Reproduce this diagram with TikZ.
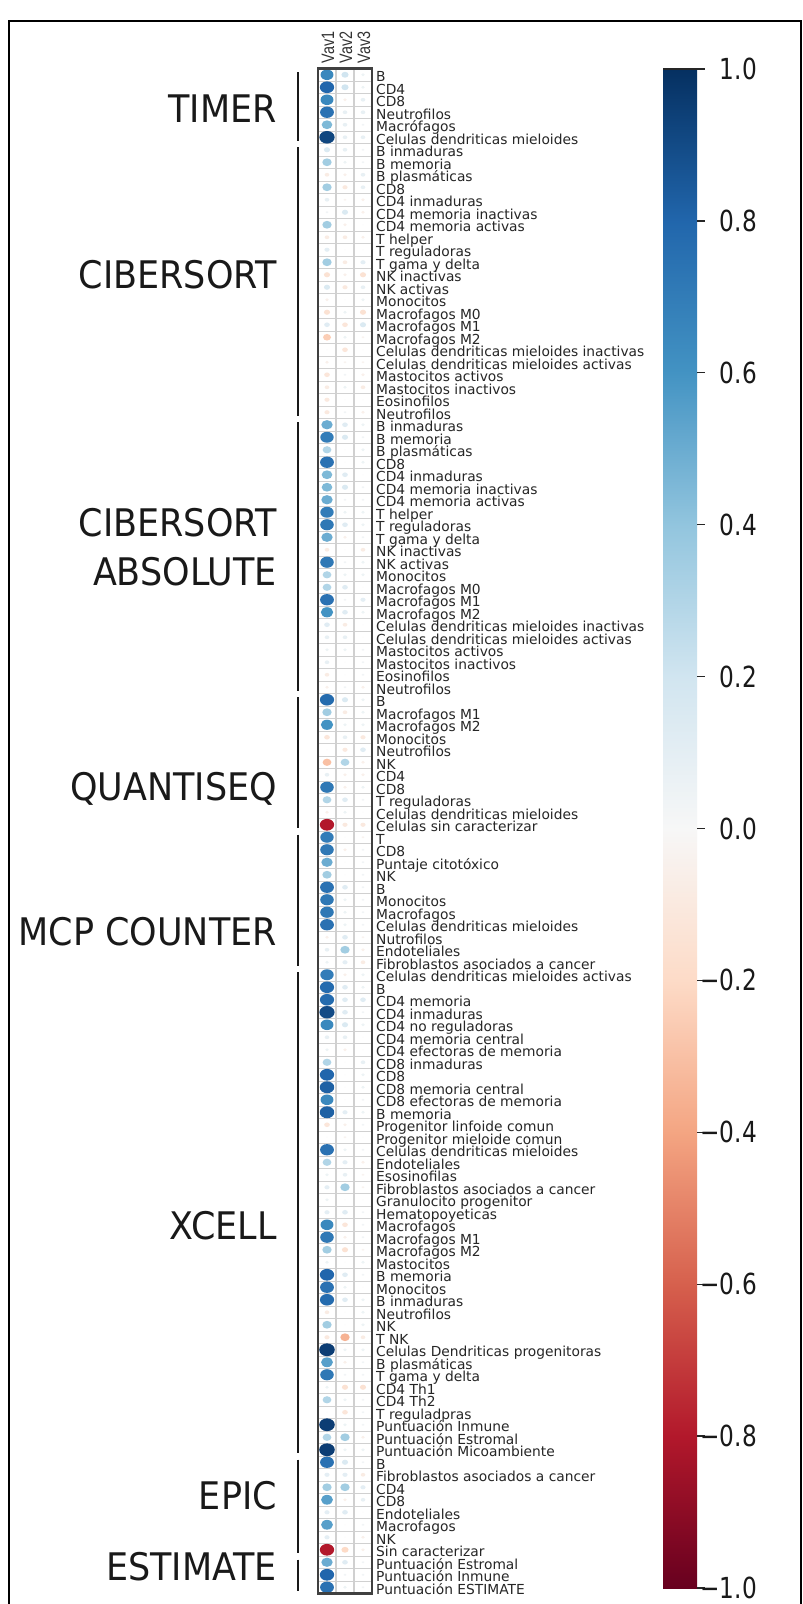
\documentclass[tikz,border=0pt]{standalone}
\usepackage{fontspec}
\setmainfont{DejaVu Sans}
\newfontfamily\labf{DejaVu Sans}
\newfontfamily\grpf{DejaVu Sans}[FakeStretch=0.92]
\newfontfamily\cbf{DejaVu Sans}[FakeStretch=0.8]
\newfontfamily\vavf{Liberation Sans}[FakeStretch=0.8]
\definecolor{rb0}{HTML}{67001F}
\definecolor{rb1}{HTML}{B2182B}
\definecolor{rb2}{HTML}{D6604D}
\definecolor{rb3}{HTML}{F4A582}
\definecolor{rb4}{HTML}{FDDBC7}
\definecolor{rb5}{HTML}{F7F7F7}
\definecolor{rb6}{HTML}{D1E5F0}
\definecolor{rb7}{HTML}{92C5DE}
\definecolor{rb8}{HTML}{4393C3}
\definecolor{rb9}{HTML}{2166AC}
\definecolor{rb10}{HTML}{053061}
\definecolor{gridgray}{HTML}{D0D0D0}
\definecolor{framegray}{HTML}{404040}
\newcommand\corrdot[3]{%
  \pgfmathsetmacro\cdt{(#3+1)*5}%
  \pgfmathtruncatemacro\cdi{min(floor(\cdt),9)}%
  \pgfmathtruncatemacro\cdf{round((\cdt-\cdi)*100)}%
  \pgfmathtruncatemacro\cdj{\cdi+1}%
  \colorlet{dotc}{rb\cdj!\cdf!rb\cdi}%
  \pgfmathsetmacro\cdr{8*sqrt(max(abs(#3),0.002))}%
  \pgfmathsetmacro\cdry{0.82*\cdr}%
  \fill[dotc] ({327+18*#2},{74.75+12.5*#1}) ellipse [x radius=\cdr pt, y radius=\cdry pt];%
}
\tikzset{
  rowlab/.style={anchor=base west, inner sep=0pt, font=\labf\fontsize{13.8pt}{14pt}\selectfont, text=black!85},
  grplab/.style={anchor=base east, inner sep=0pt, font=\grpf\fontsize{38pt}{40pt}\selectfont, text=black!90},
  cblab/.style={anchor=east, inner sep=0pt, font=\cbf\fontsize{29pt}{30pt}\selectfont, text=black!90},
  vavlab/.style={anchor=west, rotate=90, inner sep=0pt, font=\vavf\fontsize{18pt}{18pt}\selectfont, text=black!80},
  brk/.style={line width=2pt, black!90},
}
\begin{document}
\begin{tikzpicture}[x=1pt,y=-1pt]
\useasboundingbox (0,0) rectangle (803,1604);
\fill[white] (0,0) rectangle (803,1604);
\draw[line width=2pt, black] (9,21) rectangle (801,1660);
% grid
\foreach \k in {1,...,121}{
  \draw[gridgray, line width=1pt] (318,{68.5+12.5*\k}) -- (372,{68.5+12.5*\k});
}
\draw[gridgray, line width=1.5pt] (336,68.5) -- (336,1593.5);
\draw[gridgray, line width=1.5pt] (354,68.5) -- (354,1593.5);
% data
\foreach \lab/\a/\b/\c [count=\i from 0] in {
B/.65/.2/.05, CD4/.8/.2/.05, CD8/.65/-.05/.08, Neutrofilos/.75/.08/.08, Macrófagos/.45/.08/.03,
Celulas dendriticas mieloides/.92/.08/.08,
B inmaduras/.15/.08/.03, B memoria/.35/.05/.03, B plasmáticas/-.08/-.05/.08, CD8/.35/-.1/.08,
CD4 inmaduras/.08/-.03/-.05, CD4 memoria inactivas/.03/.15/-.05, CD4 memoria activas/.35/-.05/0,
T helper/-.08/-.08/-.05, T reguladoras/.1/0/0, T gama y delta/.35/-.08/.1, NK inactivas/-.15/-.05/-.15,
NK activas/.15/-.1/.08, Monocitos/-.05/0/.05, Macrofagos M0/-.15/.05/-.15, Macrofagos M1/.12/-.12/.15,
Macrofagos M2/-.25/.05/-.03, Celulas dendriticas mieloides inactivas/0/-.12/0,
Celulas dendriticas mieloides activas/-.05/-.03/-.03, Mastocitos activos/-.12/.03/-.05,
Mastocitos inactivos/-.08/.05/-.08, Eosinofilos/-.1/0/0, Neutrofilos/-.1/.03/-.05,
B inmaduras/.5/.12/.05, B memoria/.7/.15/.03, B plasmáticas/.3/0/.05, CD8/.75/0/.05,
CD4 inmaduras/.45/.12/0, CD4 memoria inactivas/.45/.15/.03, CD4 memoria activas/.5/.03/.03,
T helper/.7/.05/.05, T reguladoras/.72/.12/.05, T gama y delta/.5/-.05/.03, NK inactivas/-.08/0/-.08,
NK activas/.72/.03/.05, Monocitos/.3/.05/.05, Macrofagos M0/.3/.12/0, Macrofagos M1/.75/.03/.1,
Macrofagos M2/.6/.12/.05, Celulas dendriticas mieloides inactivas/.12/-.08/0,
Celulas dendriticas mieloides activas/.08/.08/0, Mastocitos activos/.05/.05/.03,
Mastocitos inactivos/.08/0/.03, Eosinofilos/-.08/0/.03, Neutrofilos/-.05/.03/-.05,
B/.78/.15/.05, Macrofagos M1/.35/-.08/.05, Macrofagos M2/.6/.05/.05, Monocitos/-.12/.08/-.1,
Neutrofilos/0/-.1/.12, NK/-.3/.3/-.05, CD4/.08/-.05/-.05, CD8/.72/-.05/.05, T reguladoras/.3/.12/.03,
Celulas dendriticas mieloides/-.05/.05/0, Celulas sin caracterizar/-.8/-.1/-.1,
T/.7/0/-.03, CD8/.72/-.05/.03, Puntaje citotóxico/.5/0/.03, NK/.35/0/.03, B/.75/.12/.03,
Monocitos/.72/.05/.03, Macrofagos/.72/.05/.03, Celulas dendriticas mieloides/.75/.05/.03,
Nutrofilos/-.05/.12/-.03, Endoteliales/.08/.35/-.05, Fibroblastos asociados a cancer/.05/.1/-.08,
Celulas dendriticas mieloides activas/.7/-.05/.05, B/.78/.12/.05, CD4 memoria/.78/.12/.12,
CD4 inmaduras/.9/.12/.03, CD4 no reguladoras/.65/.15/.05, CD4 memoria central/.08/.08/0,
CD4 efectoras de memoria/.05/-.05/0, CD8 inmaduras/.3/0/.08, CD8/.8/0/.05,
CD8 memoria central/.82/0/.05, CD8 efectoras de memoria/.65/0/.03, B memoria/.82/.1/.05,
Progenitor linfoide comun/-.12/-.05/.03, Progenitor mieloide comun/0/-.03/0,
Celulas dendriticas mieloides/.75/.05/.03, Endoteliales/.3/.1/-.05, Esosinofilas/.05/.08/-.03,
Fibroblastos asociados a cancer/.1/.35/-.03, Granulocito progenitor/.05/0/0,
Hematopoyeticas/.1/.12/.03, Macrofagos/.65/-.12/.03, Macrofagos M1/.72/-.05/.03,
Macrofagos M2/.35/-.15/-.03, Mastocitos/.05/0/.05, B memoria/.8/.12/.03, Monocitos/.75/.05/0,
B inmaduras/.78/.12/.05, Neutrofilos/-.08/0/.05, NK/.35/0/.05, T NK/-.1/-.35/-.08,
Celulas Dendriticas progenitoras/.95/.05/.05, B plasmáticas/.55/-.05/.03, T gama y delta/.72/.03/.03,
CD4 Th1/.05/-.15/-.15, CD4 Th2/.3/.05/.03, T reguladpras/0/-.12/.03, Puntuación Inmune/.95/.05/.03,
Puntuación Estromal/.3/.35/-.05, Puntuación Micoambiente/.95/.05/.05,
B/.75/.15/.03, Fibroblastos asociados a cancer/.1/.1/-.08, CD4/.35/.35/.1, CD8/.55/-.05/.08,
Endoteliales/.1/.12/0, Macrofagos/.55/0/.03, NK/.1/0/-.05, Sin caracterizar/-.8/-.2/-.05,
Puntuación Estromal/.5/.12/.03, Puntuación Inmune/.8/.03/.03, Puntuación ESTIMATE/.75/.05/.03}{
  \corrdot{\i}{0}{\a}
  \corrdot{\i}{1}{\b}
  \corrdot{\i}{2}{\c}
  \node[rowlab] (lab\i) at (376,{81.75+12.5*\i}) {\lab};
}
\draw[framegray, line width=2.2pt] (318,68.5) rectangle (372,1593.5);
% column headers
\node[vavlab] (vav1) at (328,63.5) {Vav1};
\node[vavlab] (vav2) at (346,63.5) {Vav2};
\node[vavlab] (vav3) at (364,63.5) {Vav3};
% group brackets
\foreach \s/\e in {0/5, 6/27, 28/49, 50/60, 61/71, 72/110, 111/118, 119/121}{
  \draw[brk] (298,{68.5+12.5*\s+3.5}) -- (298,{68.5+12.5*(\e+1)-3});
}
% group labels
\node[grplab] (gTIMER) at (277,122) {TIMER};
\node[grplab] (gCIB) at (277,288) {CIBERSORT};
\node[grplab] (gCIBA1) at (277,536) {CIBERSORT};
\node[grplab] (gCIBA2) at (277,585) {ABSOLUTE};
\node[grplab] (gQUAN) at (277,800) {QUANTISEQ};
\node[grplab] (gMCP) at (277,945) {MCP COUNTER};
\node[grplab] (gXCELL) at (277,1239) {XCELL};
\node[grplab] (gEPIC) at (277,1509) {EPIC};
\node[grplab] (gEST) at (277,1580) {ESTIMATE};
% colorbar
\foreach \k in {0,...,9}{
  \pgfmathtruncatemacro\kk{\k+1}
  \pgfmathsetmacro\yt{69+(2-0.2*(\k+1))*759.5}
  \pgfmathsetmacro\yb{69+(2-0.2*\k)*759.5+0.6}
  \shade[top color=rb\kk, bottom color=rb\k] (663,\yt) rectangle (697,\yb);
}
\foreach \v/\t [count=\n] in {1/1.0, 0.8/0.8, 0.6/0.6, 0.4/0.4, 0.2/0.2, 0/0.0, -0.2/−0.2, -0.4/−0.4, -0.6/−0.6, -0.8/−0.8, -1/−1.0}{
  \pgfmathsetmacro\yy{69+(1-\v)*759.5}
  \draw[black!85, line width=1.3pt] (697,\yy) -- (705,\yy);
  \node[cblab] (cb\n) at (757,\yy) {\t};
}
\draw[black!85, line width=1.3pt] (663,69) -- (697,69);
\end{tikzpicture}
\end{document}
